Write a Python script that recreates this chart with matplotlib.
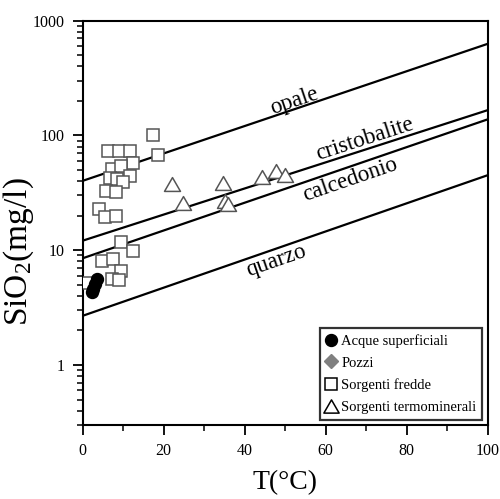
import numpy as np
import matplotlib
matplotlib.use("Agg")
import matplotlib.pyplot as plt
from matplotlib.lines import Line2D
from matplotlib.path import Path

plt.rcParams["font.family"] = ["Liberation Serif", "DejaVu Serif"]
plt.rcParams["mathtext.fontset"] = "custom"
plt.rcParams["mathtext.rm"] = "Liberation Serif"
plt.rcParams["mathtext.it"] = "Liberation Serif:italic"

# Solubility lines (value at 0 and 100 degC)
line_names = ["opale", "cristobalite", "calcedonio", "quarzo"]
line_t = [0, 100]
line_sio2 = {
    "opale": [40.2, 628],
    "cristobalite": [12.1, 166],
    "calcedonio": [8.5, 138],
    "quarzo": [2.68, 45],
}

# Acque superficiali
acque_t = [3.5, 3.0, 2.5, 2.3]
acque_sio2 = [5.6, 5.1, 4.6, 4.35]

# Pozzi (legend only)
pozzi_t = []
pozzi_sio2 = []

# Sorgenti fredde
fredde_t = [17.4, 18.7, 6.3, 9.0, 11.8, 12.5, 7.2, 9.6, 6.7, 8.4, 11.7, 10.0,
            5.9, 8.2, 4.1, 5.5, 8.2, 9.6, 12.5, 4.7, 7.6, 9.6, 7.2, 9.0, 1.0]
fredde_sio2 = [100, 68, 73, 73, 73, 58, 51, 54, 43, 41.5, 44, 39,
               33, 32, 23, 19.3, 20, 11.7, 9.9, 8.0, 8.4, 6.65, 5.56, 5.45, 5.2]

# Sorgenti termominerali
termo_t = [22.0, 24.8, 34.7, 35.1, 36.0, 44.2, 47.9, 50.0]
termo_sio2 = [37.6, 26, 38.4, 26.9, 25.1, 43.8, 49, 45]

fig = plt.figure(figsize=(5.0, 4.99), dpi=100)
ax = fig.add_axes([0.165, 0.1483, 0.81, 0.8102])
ax.set_yscale("log")
ax.set_xlim(0, 100)
ax.set_ylim(0.3, 1000)

for name in line_names:
    ax.plot(line_t, line_sio2[name], color="black", lw=1.6, zorder=2)

# flat (equilateral) triangle marker
tri = Path([(-1, -0.866), (1, -0.866), (0, 0.866), (-1, -0.866)], closed=True)

ax.plot(fredde_t, fredde_sio2, ls="none", marker="s", ms=9, mfc="white",
        mec="#555555", mew=1.1, zorder=3)
ax.plot(termo_t, termo_sio2, ls="none", marker=tri, ms=11.5, mfc="white",
        mec="#555555", mew=1.1, zorder=3)
ax.plot(acque_t, acque_sio2, ls="none", marker="o", ms=8.6, color="black",
        zorder=4)

# Line labels, rotated to follow the lines on screen
label_pos = {
    "opale": (52.4, 198),
    "cristobalite": (69.7, 92),
    "calcedonio": (66.0, 41.5),
    "quarzo": (47.9, 8.1),
}
for name in line_names:
    p = ax.transData.transform(np.column_stack([line_t, line_sio2[name]]))
    ang = np.degrees(np.arctan2(p[1, 1] - p[0, 1], p[1, 0] - p[0, 0]))
    x, y = label_pos[name]
    ax.text(x, y, name, rotation=ang, rotation_mode="anchor", ha="center",
            va="center", fontsize=16.5)

ax.set_xticks([0, 20, 40, 60, 80, 100])
ax.set_xticks([10, 30, 50, 70, 90], minor=True)
ax.set_yticks([1, 10, 100, 1000])
ax.set_yticklabels(["1", "10", "100", "1000"])
ax.tick_params(which="major", direction="out", length=7, width=1.3,
               labelsize=11.5, pad=6, top=False, right=False)
ax.tick_params(which="minor", direction="out", length=4, width=1.1,
               top=False, right=False)
for s in ax.spines.values():
    s.set_linewidth(1.5)

ax.set_xlabel("T(°C)", fontsize=20)
ax.set_ylabel("SiO$_2$(mg/l)", fontsize=24)
ax.xaxis.set_label_coords(0.5, -0.112)
ax.yaxis.set_label_coords(-0.115, 0.428)

handles = [
    Line2D([], [], ls="none", marker="o", ms=8.6, color="black"),
    Line2D([], [], ls="none", marker="D", ms=7, color="#808080"),
    Line2D([], [], ls="none", marker="s", ms=8, mfc="white", mec="black", mew=1.1),
    Line2D([], [], ls="none", marker=tri, ms=11, mfc="white", mec="black", mew=1.1),
]
labels = ["Acque superficiali", "Pozzi", "Sorgenti fredde", "Sorgenti termominerali"]
leg = ax.legend(handles, labels, loc="lower right", fontsize=10.5,
                frameon=True, fancybox=False, edgecolor="black",
                handlelength=0.8, handletextpad=0.3, borderaxespad=0.35,
                labelspacing=0.6, borderpad=0.4)
leg.get_frame().set_linewidth(1.6)

fig.savefig("out.png", dpi=100)
